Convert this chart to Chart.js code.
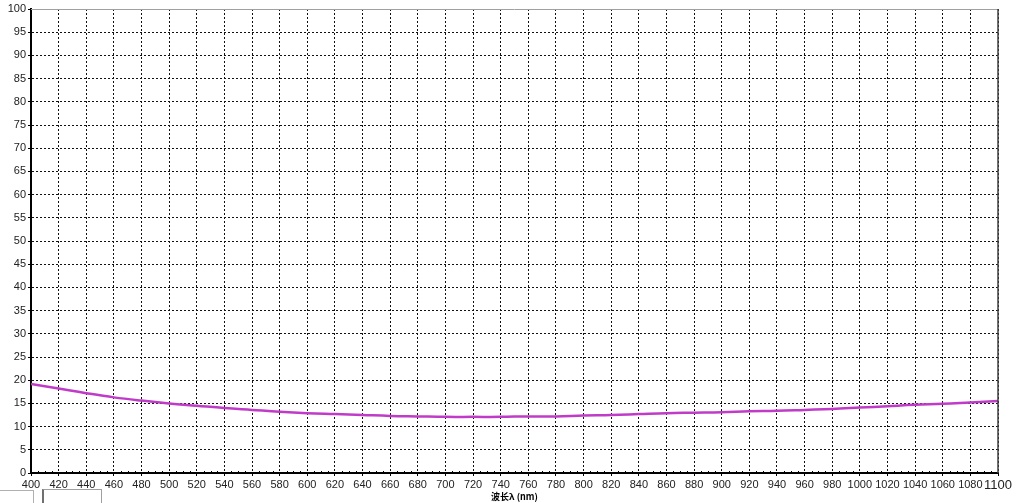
<!DOCTYPE html>
<html>
<head>
<meta charset="utf-8">
<script src="https://cdn.jsdelivr.net/npm/chart.js@4"></script>
<style>
html,body{margin:0;padding:0;background:#fff;overflow:hidden;}
#wrap{position:absolute;left:0;top:0;width:1024px;height:503px;}
.box1{position:absolute;left:0;top:490px;width:33px;height:20px;border-top:1px solid #b0b0b0;border-right:1px solid #b0b0b0;}
.box2{position:absolute;left:42px;top:489px;width:57px;height:20px;border:1px solid #a0a0a0;border-left:2px solid #707070;}
</style>
</head>
<body>
<div id="wrap"><canvas id="c" width="1024" height="503"></canvas></div>
<div class="box1"></div><div class="box2"></div>
<script>
const wavelengths = [400,420,440,460,480,500,520,540,560,580,600,620,640,660,680,700,720,740,760,780,800,820,840,860,880,900,920,940,960,980,1000,1020,1040,1060,1080,1100];
const values = [19.2,18.2,17.2,16.3,15.6,15.0,14.5,14.0,13.6,13.2,12.9,12.7,12.5,12.3,12.2,12.1,12.1,12.1,12.2,12.2,12.4,12.5,12.7,12.9,13.0,13.1,13.3,13.4,13.6,13.8,14.1,14.4,14.7,14.9,15.2,15.5];
const xTitle = '波长λ (nm)';

const framePlugin = {
  id: 'frame',
  afterDraw(chart) {
    const {ctx, chartArea: a, scales} = chart;
    ctx.save();
    ctx.setLineDash([]);
    ctx.strokeStyle = '#a0a0a0'; ctx.lineWidth = 1;
    ctx.beginPath(); ctx.moveTo(a.left, a.top + 0.5); ctx.lineTo(a.right, a.top + 0.5); ctx.stroke();
    ctx.strokeStyle = '#404040'; ctx.lineWidth = 1.5;
    ctx.beginPath(); ctx.moveTo(a.right, a.top); ctx.lineTo(a.right, a.bottom); ctx.stroke();
    ctx.strokeStyle = '#000'; ctx.lineWidth = 1;
    const xs = scales.x;
    for (let v = 400; v <= 1100; v += 5) {
      if (v % 20 === 0) continue;
      const px = Math.round(xs.getPixelForValue(v)) + 0.5;
      ctx.beginPath(); ctx.moveTo(px, a.bottom); ctx.lineTo(px, a.bottom - 2); ctx.stroke();
    }
    ctx.restore();
  }
};

new Chart(document.getElementById('c'), {
  type: 'line',
  data: {
    datasets: [{
      data: wavelengths.map((w, i) => ({x: w, y: values[i]})),
      borderColor: '#c03cc8',
      borderWidth: 2.5,
      pointRadius: 0,
      tension: 0.4,
      fill: false
    }]
  },
  options: {
    responsive: false,
    animation: false,
    layout: {padding: {top: 9, right: 26, left: 0, bottom: 0}},
    plugins: {legend: {display: false}, tooltip: {enabled: false}},
    scales: {
      x: {
        type: 'linear', min: 400, max: 1100,
        afterFit(s) { s.height = 30; },
        ticks: {
          stepSize: 20, autoSkip: false, maxRotation: 0, padding: 2,
          color: '#222',
          callback: (v) => String(v),
          font: (c) => ({family: 'Liberation Sans, Arial, sans-serif', size: c.tick && c.tick.value === 1100 ? 13 : 11})
        },
        grid: {color: '#111', lineWidth: 1, drawTicks: true, tickLength: 3, tickColor: '#000', tickBorderDash: []},
        border: {display: true, color: '#000', width: 2, dash: [2, 2]},
        title: {display: true, text: xTitle, color: '#000', padding: {top: 0, bottom: 1},
          font: {family: 'Noto Sans CJK SC, sans-serif', size: 9, weight: 'bold'}}
      },
      y: {
        min: 0, max: 100,
        afterFit(s) { s.width = 31; },
        ticks: {
          stepSize: 5, autoSkip: false, padding: 2, color: '#222',
          callback: (v) => String(v),
          font: {family: 'Liberation Sans, Arial, sans-serif', size: 11}
        },
        grid: {color: '#111', lineWidth: 1, tickLength: 3, tickColor: '#000', tickBorderDash: []},
        border: {display: true, color: '#000', width: 2, dash: [2, 2]}
      }
    }
  },
  plugins: [framePlugin]
});
</script>
</body>
</html>
